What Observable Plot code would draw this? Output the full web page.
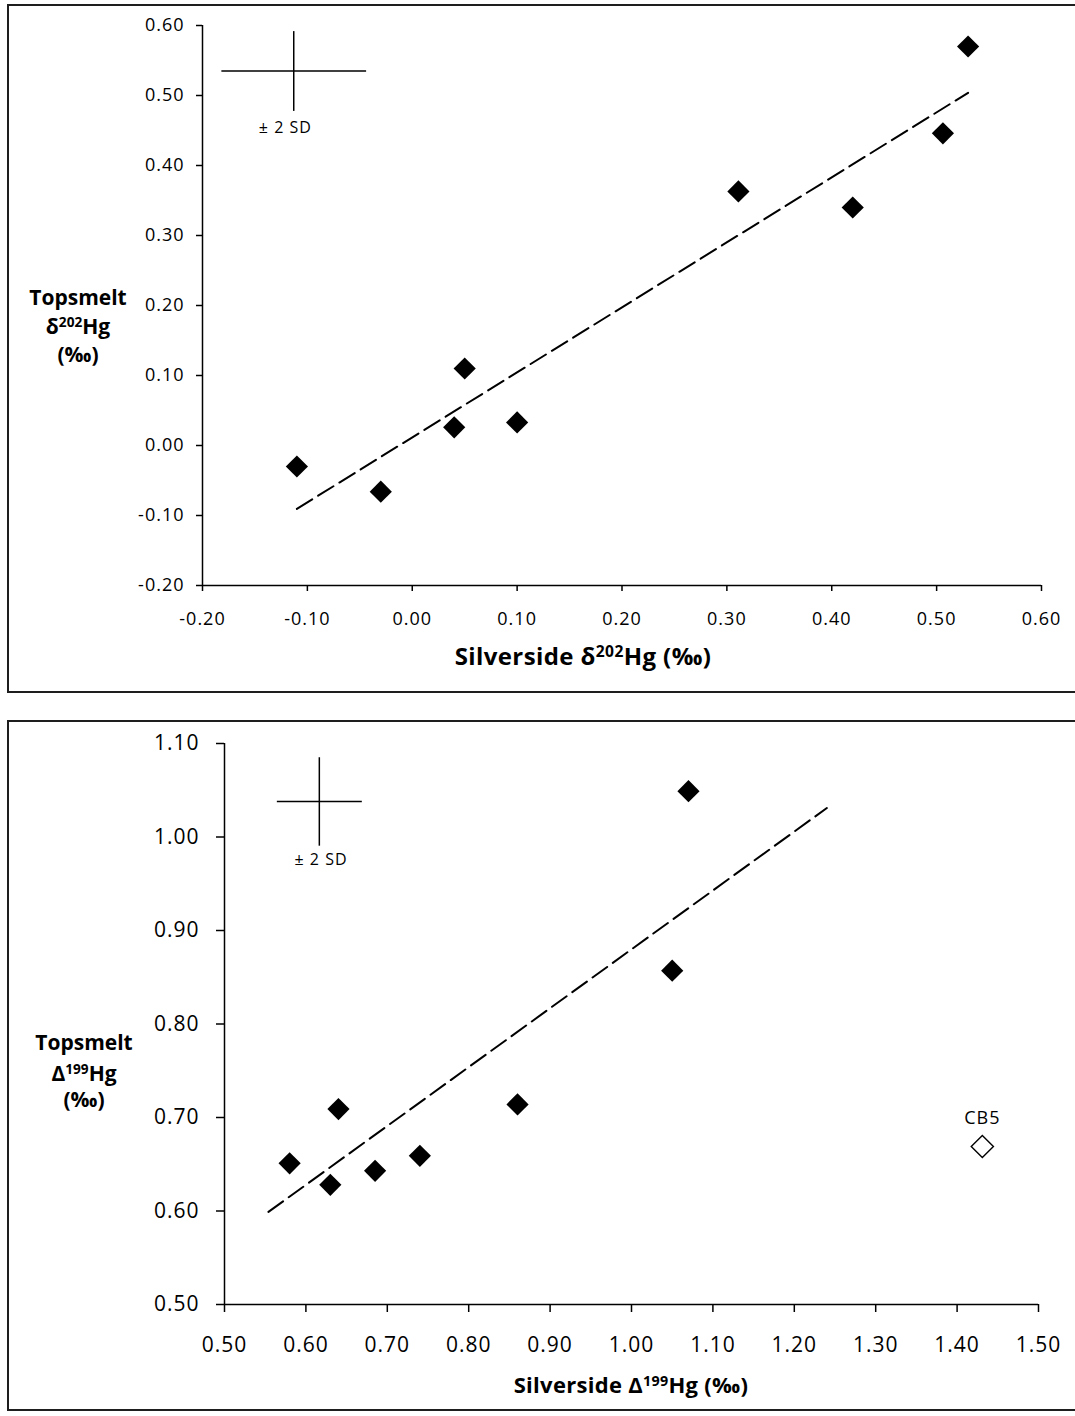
<!DOCTYPE html>
<html><head><meta charset="utf-8">
<script src="https://cdn.jsdelivr.net/npm/d3@7"></script>
<script src="https://cdn.jsdelivr.net/npm/@observablehq/plot@0.6"></script>
<style>
html,body{margin:0;padding:0;background:#fff;}
#page{position:relative;width:1075px;height:1416px;overflow:hidden;background:#fff;}
.box{position:absolute;border:2px solid #1e1e1e;box-sizing:border-box;}
.panel{position:absolute;left:0;width:1075px;}
</style></head><body>
<div id="page">
<div class="box" style="left:7px;top:4px;width:1085px;height:689px"></div>
<div class="box" style="left:7px;top:720px;width:1085px;height:691px"></div>
<div id="p1" class="panel" style="top:0"></div>
<div id="p2" class="panel" style="top:700px"></div>
</div>
<script>
// ---- Panel 1 data: δ202Hg ----
const silverside202 = [-0.110, -0.030, 0.040, 0.050, 0.100, 0.311, 0.420, 0.506, 0.530];
const topsmelt202   = [-0.030, -0.066, 0.026, 0.110, 0.033, 0.363, 0.340, 0.446, 0.570];
const ticks1 = [-0.2, -0.1, 0, 0.1, 0.2, 0.3, 0.4, 0.5, 0.6];
const sd1Center = [-0.113, 0.535];
const sd1Half = [0.069, 0.057];
const sd1Label = [-0.121, 0.4536];

// ---- Panel 2 data: Δ199Hg ----
const silverside199 = [0.580, 0.630, 0.640, 0.685, 0.740, 0.860, 1.050, 1.070];
const topsmelt199   = [0.651, 0.628, 0.709, 0.643, 0.659, 0.714, 0.857, 1.049];
const outlierName = ["CB5"];
const outlierX = [1.431];
const outlierY = [0.669];
const trend2X = [0.554, 1.240];
const trend2Y = [0.599, 1.031];
const ticks2X = [0.5, 0.6, 0.7, 0.8, 0.9, 1.0, 1.1, 1.2, 1.3, 1.4, 1.5];
const ticks2Y = [0.5, 0.6, 0.7, 0.8, 0.9, 1.0, 1.1];
const sd2Center = [0.6165, 1.038];
const sd2Half = [0.0522, 0.0473];
const sd2Label = [0.6186, 0.9754];

const fmt = d => d.toFixed(2);
const crossOf = (c, h) => [
  {x1: c[0] - h[0], x2: c[0] + h[0], y1: c[1], y2: c[1]},
  {x1: c[0], x2: c[0], y1: c[1] - h[1], y2: c[1] + h[1]}
];

function addTitle(svg, x, y, size, parts, spacing) {
  const t = d3.select(svg).append("text")
    .attr("x", x).attr("y", y)
    .attr("text-anchor", "middle")
    .attr("font-family", "Open Sans")
    .attr("font-weight", "bold")
    .attr("font-size", size)
    .attr("fill", "#000")
    .style("letter-spacing", (spacing || 0) + "px");
  let shifted = false;
  for (const [s, sup] of parts) {
    const ts = t.append("tspan").text(s);
    if (sup && !shifted) { ts.attr("font-size", size * 0.65).attr("dy", -size * 0.33); shifted = true; }
    else if (!sup && shifted) { ts.attr("dy", size * 0.33); shifted = false; }
  }
}

// ---- Panel 1 ----
const data1 = silverside202.map((x, i) => ({x, y: topsmelt202[i]}));
const svg1 = Plot.plot({
  width: 1075, height: 700,
  marginLeft: 202, marginRight: 34, marginTop: 25, marginBottom: 115,
  x: {domain: [-0.2, 0.6]},
  y: {domain: [-0.2, 0.6]},
  style: {fontFamily: "Open Sans", fontSize: "18px", letterSpacing: "1px", background: "transparent", color: "#000"},
  marks: [
    Plot.ruleY([-0.2], {strokeWidth: 1.5}),
    Plot.ruleX([-0.2], {strokeWidth: 1.5}),
    Plot.axisX({ticks: ticks1, tickFormat: fmt, tickSize: 6, tickPadding: 21, label: null, strokeWidth: 1.5, fontSize: 18}),
    Plot.axisY({ticks: ticks1, tickFormat: fmt, tickSize: 6, tickPadding: 12, label: null, strokeWidth: 1.5, fontSize: 18}),
    Plot.linearRegressionY(data1, {x: "x", y: "y", ci: 0, stroke: "#000", strokeWidth: 2, strokeDasharray: "18,7"}),
    Plot.link(crossOf(sd1Center, sd1Half), {x1: "x1", x2: "x2", y1: "y1", y2: "y2", stroke: "#000", strokeWidth: 1.5}),
    Plot.text(["± 2 SD"], {x: sd1Label[0], y: sd1Label[1], text: d => d, fontSize: 16, lineAnchor: "middle"}),
    Plot.dot(data1, {x: "x", y: "y", symbol: "diamond2", r: 10, fill: "#000", stroke: "none"})
  ]
});
document.getElementById("p1").appendChild(svg1);
addTitle(svg1, 583, 665, 24, [["Silverside δ", false], ["202", true], ["Hg (‰)", false]], 0.4);
addTitle(svg1, 78, 305, 21, [["Topsmelt", false]]);
addTitle(svg1, 78, 334, 21, [["δ", false], ["202", true], ["Hg", false]]);
addTitle(svg1, 78, 362, 21, [["(‰)", false]]);

// ---- Panel 2 ----
const data2 = silverside199.map((x, i) => ({x, y: topsmelt199[i]}));
const outlier = outlierName.map((n, i) => ({name: n, x: outlierX[i], y: outlierY[i]}));
const trend2 = trend2X.map((x, i) => ({x, y: trend2Y[i]}));
const svg2 = Plot.plot({
  width: 1075, height: 716,
  marginLeft: 224, marginRight: 37, marginTop: 43, marginBottom: 112,
  x: {domain: [0.5, 1.5]},
  y: {domain: [0.5, 1.1]},
  style: {fontFamily: "Open Sans", fontSize: "21px", letterSpacing: "1px", background: "transparent", color: "#000"},
  marks: [
    Plot.ruleY([0.5], {strokeWidth: 1.5}),
    Plot.ruleX([0.5], {strokeWidth: 1.5}),
    Plot.axisX({ticks: ticks2X, tickFormat: fmt, tickSize: 8, tickPadding: 25, label: null, strokeWidth: 1.5, fontSize: 21}),
    Plot.axisY({ticks: ticks2Y, tickFormat: fmt, tickSize: 8, tickPadding: 17, label: null, strokeWidth: 1.5, fontSize: 21}),
    Plot.line(trend2, {x: "x", y: "y", stroke: "#000", strokeWidth: 2, strokeDasharray: "18,7"}),
    Plot.link(crossOf(sd2Center, sd2Half), {x1: "x1", x2: "x2", y1: "y1", y2: "y2", stroke: "#000", strokeWidth: 1.5}),
    Plot.text(["± 2 SD"], {x: sd2Label[0], y: sd2Label[1], text: d => d, fontSize: 16, lineAnchor: "middle"}),
    Plot.dot(data2, {x: "x", y: "y", symbol: "diamond2", r: 10, fill: "#000", stroke: "none"}),
    Plot.dot(outlier, {x: "x", y: "y", symbol: "diamond2", r: 10, fill: "#fff", stroke: "#000", strokeWidth: 1.4}),
    Plot.text(outlier, {x: "x", y: "y", text: "name", dy: -28, fontSize: 18, lineAnchor: "middle"})
  ]
});
document.getElementById("p2").appendChild(svg2);
addTitle(svg2, 631, 693, 22, [["Silverside Δ", false], ["199", true], ["Hg (‰)", false]], 0.3);
addTitle(svg2, 84, 350, 21, [["Topsmelt", false]]);
addTitle(svg2, 84, 381, 21, [["Δ", false], ["199", true], ["Hg", false]]);
addTitle(svg2, 84, 407, 21, [["(‰)", false]]);
</script>
</body></html>
